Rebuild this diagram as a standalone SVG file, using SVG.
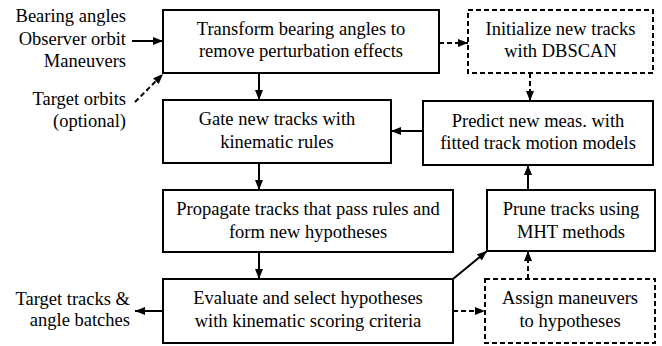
<svg xmlns="http://www.w3.org/2000/svg" width="662" height="346" viewBox="0 0 662 346">
<defs>
<marker id="ah" markerUnits="userSpaceOnUse" markerWidth="11" markerHeight="9" refX="10" refY="4" orient="auto">
<path d="M0,0 L10,4 L0,8 z" fill="#000"/>
</marker>
</defs>
<style>
text{font-family:'Liberation Serif','Times New Roman',serif;font-size:18.5px;fill:#000}
.c{text-anchor:middle}
.r{text-anchor:end}
.box{fill:#fff;stroke:#000;stroke-width:2}
.dbox{fill:#fff;stroke:#000;stroke-width:2;stroke-dasharray:5 3}
.ln{stroke:#000;stroke-width:2;fill:none;marker-end:url(#ah)}
.dl{stroke:#000;stroke-width:2;fill:none;stroke-dasharray:5 3;marker-end:url(#ah)}
</style>
<rect width="662" height="346" fill="#fff"/>
<g id="inputs">
<text class="r" x="126" y="22">Bearing angles</text>
<text class="r" x="126" y="44.5">Observer orbit</text>
<text class="r" x="126" y="67">Maneuvers</text>
</g>
<g id="target-orbits">
<text class="r" x="126" y="105">Target orbits</text>
<text class="r" x="126" y="127">(optional)</text>
</g>
<g id="outputs">
<text class="r" x="130" y="305">Target tracks &amp;</text>
<text class="r" x="130" y="326">angle batches</text>
</g>
<g id="transform">
<rect class="box" x="163" y="10" width="276" height="63"/>
<text class="c" x="301" y="34.5">Transform bearing angles to</text>
<text class="c" x="301" y="57">remove perturbation effects</text>
</g>
<g id="initialize">
<rect class="dbox" x="468" y="10" width="185" height="63"/>
<text class="c" x="560.5" y="34.5">Initialize new tracks</text>
<text class="c" x="560.5" y="57">with DBSCAN</text>
</g>
<g id="gate">
<rect class="box" x="163" y="100" width="228" height="63"/>
<text class="c" x="277" y="125">Gate new tracks with</text>
<text class="c" x="277" y="147.5">kinematic rules</text>
</g>
<g id="predict">
<rect class="box" x="423" y="101" width="230" height="64"/>
<text class="c" x="538" y="126.5">Predict new meas. with</text>
<text class="c" x="538" y="149">fitted track motion models</text>
</g>
<g id="propagate">
<rect class="box" x="163" y="190" width="290" height="62"/>
<text class="c" x="308" y="215">Propagate tracks that pass rules and</text>
<text class="c" x="308" y="237.5">form new hypotheses</text>
</g>
<g id="prune">
<rect class="box" x="487" y="190" width="168" height="61"/>
<text class="c" x="571" y="215">Prune tracks using</text>
<text class="c" x="571" y="237.5">MHT methods</text>
</g>
<g id="evaluate">
<rect class="box" x="163" y="279" width="290" height="64"/>
<text class="c" x="308" y="304">Evaluate and select hypotheses</text>
<text class="c" x="308" y="327">with kinematic scoring criteria</text>
</g>
<g id="assign">
<rect class="dbox" x="485" y="279" width="170" height="64"/>
<text class="c" x="570" y="304">Assign maneuvers</text>
<text class="c" x="570" y="327">to hypotheses</text>
</g>
<g id="connectors">
<line class="ln" x1="132" y1="41" x2="163" y2="41"/>
<line class="dl" x1="135" y1="102" x2="163" y2="74"/>
<line class="dl" x1="439" y1="43" x2="468" y2="43"/>
<line class="ln" x1="259" y1="73" x2="259" y2="100"/>
<line class="dl" x1="530" y1="73" x2="530" y2="101"/>
<line class="ln" x1="423" y1="131" x2="391" y2="131"/>
<line class="ln" x1="259" y1="163" x2="259" y2="190"/>
<line class="ln" x1="259" y1="252" x2="259" y2="279"/>
<line class="ln" x1="163" y1="311" x2="135" y2="311"/>
<line class="ln" x1="453" y1="279" x2="487" y2="251"/>
<line class="dl" x1="453" y1="311" x2="485" y2="311"/>
<line class="dl" x1="528" y1="279" x2="528" y2="251"/>
<line class="ln" x1="528" y1="190" x2="528" y2="165"/>
</g>
</svg>
